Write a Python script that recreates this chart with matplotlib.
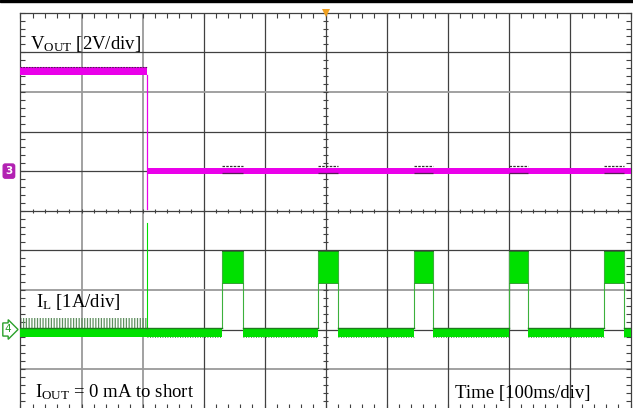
import matplotlib
matplotlib.use("Agg")
import numpy as np
import matplotlib.pyplot as plt
from matplotlib.patches import Rectangle

# ESCALAS DEL OSCILOSCOPIO
t_div = 100        # ms/div
v_div = 2          # V/div (canal 3)
i_div = 1          # A/div (canal 4)
ch3_cero = 6       # nivel de cero del canal 3 (div desde abajo)
ch4_cero = 2       # nivel de cero del canal 4
t_fin = 1000       # ms

# VOUT (V)
t_corto = 207
vout_antes = [4.86, 5.27]
vout_despues = [-0.16, 0.18]
vout_subida = -1.9

# IL (A)
il_base = [-0.18, 0.04]
il_rizado = 0.3
il_pico = 2.7
hiccup_ini = [331, 488, 645, 800, 956]
hiccup_fin = [364, 520, 676, 832, 989]
il_hiccup = [1.17, 1.97]

# textos
txt_vout = r"$\mathregular{V_{OUT}}$ [2V/div]"
txt_il = r"$\mathregular{I_{L}}$ [1A/div]"
txt_iout = r"$\mathregular{I_{OUT}}$ = 0 mA to short"
txt_tiempo = "Time [100ms/div]"

MAGENTA = "#ea00ea"
VERDE = "#00e000"
VERDE_OSC = "#1f7a1f"

plt.rcParams["font.family"] = ["Liberation Serif", "DejaVu Serif"]
plt.rcParams["mathtext.default"] = "regular"
plt.rcParams["hatch.linewidth"] = 0.9


def yv(v):
    return ch3_cero + np.asarray(v) / v_div


def yi(i):
    return ch4_cero + np.asarray(i) / i_div


def xt(t):
    return np.asarray(t) / t_div


fig = plt.figure(figsize=(6.33, 4.08), dpi=100)
ax = fig.add_axes([20.5 / 633, -0.7 / 408, 610 / 633, 396 / 408])
ax.set_xlim(0, 10)
ax.set_ylim(0, 10)

# reticula
claras_x = [1, 2]
claras_y = [8, 3, 1]
for k in range(1, 10):
    if k in claras_x:
        ax.axvline(k, color="#9a9a9a", lw=1.3, zorder=1)
    else:
        ax.axvline(k, color="#404040", lw=0.9, zorder=1)
    if k in claras_y:
        ax.axhline(k, color="#9a9a9a", lw=1.3, zorder=1)
    else:
        ax.axhline(k, color="#404040", lw=0.9, zorder=1)

menores = np.arange(0, 10.01, 0.2)
ax.set_xticks(menores, minor=True)
ax.set_yticks(menores, minor=True)
ax.set_xticks([])
ax.set_yticks([])
ax.tick_params(which="minor", direction="in", length=3.5, width=0.8, color="#404040",
               top=True, right=True, bottom=True, left=True,
               labelbottom=False, labelleft=False)
ax.vlines(menores, 5 - 0.055, 5 + 0.055, color="#404040", lw=0.8, zorder=1)
ax.hlines(menores, 5 - 0.035, 5 + 0.035, color="#404040", lw=0.8, zorder=1)
for s in ax.spines.values():
    s.set_color("#404040")
    s.set_linewidth(0.9)

n_h = len(hiccup_ini)

# VOUT
ax.fill_between(xt([0, t_corto]), yv(vout_antes[0]), yv(vout_antes[1]),
                color=MAGENTA, lw=0, zorder=3)
ax.plot(xt([0, t_corto]), yv([vout_antes[1], vout_antes[1]]), color="#5a1a5a",
        lw=0.8, ls=(0, (1.5, 1)), zorder=4)
ax.plot(xt([t_corto, t_corto]), yv([vout_antes[0], vout_subida]), color=MAGENTA,
        lw=0.9, zorder=3)
ax.fill_between(xt([t_corto, t_fin]), yv(vout_despues[0]), yv(vout_despues[1]),
                color=MAGENTA, lw=0, zorder=3)
ax.hlines([yv(vout_despues[1] + 0.08)] * n_h, xt(hiccup_ini), xt(hiccup_fin),
          color="#303030", lw=0.9, ls=(0, (2, 1)), zorder=4)
ax.hlines([yv(vout_despues[0] + 0.07)] * n_h, xt(hiccup_ini), xt(hiccup_fin),
          color="#5a1a5a", lw=0.9, zorder=4)

# IL antes del corto
ax.fill_between(xt([0, t_corto]), yi(il_base[1]), yi(il_rizado), facecolor="none",
                edgecolor="#5f8f5f", hatch="||||||", lw=0, zorder=2)
ax.fill_between(xt([0, t_corto]), yi(il_base[0]), yi(il_base[1]), color=VERDE,
                lw=0, zorder=3)
ax.plot(xt([0, t_corto]), yi([il_base[1], il_base[1]]), color=VERDE_OSC, lw=1.0, zorder=4)
ax.plot(xt([t_corto, t_corto]), yi([il_base[1], il_pico]), color=VERDE, lw=0.8, zorder=3)

# IL en modo hiccup
tramos_ini = [t_corto] + hiccup_fin
tramos_fin = hiccup_ini + [t_fin]
for a, b in zip(tramos_ini, tramos_fin):
    ax.fill_between(xt([a, b]), yi(il_base[0]), yi(il_base[1]), color=VERDE,
                    lw=0, zorder=3)
    ax.plot(xt([a, b]), yi([il_base[1], il_base[1]]), color=VERDE_OSC, lw=1.0, zorder=4)
    ax.plot(xt([a, b]), yi([il_base[0], il_base[0]]), color=VERDE_OSC, lw=0.6,
            ls=(0, (1, 2)), zorder=4)

for a, b in zip(hiccup_ini, hiccup_fin):
    ax.fill_between(xt([a, b]), yi(il_hiccup[0]), yi(il_hiccup[1]), color=VERDE,
                    lw=0, zorder=3)
    ax.plot(xt([a, b]), yi([il_hiccup[1], il_hiccup[1]]), color=VERDE_OSC, lw=0.7, zorder=4)
    ax.plot(xt([a, b]), yi([il_hiccup[0], il_hiccup[0]]), color="#2fa02f", lw=0.7, zorder=4)
    ax.vlines(xt([a, b]), yi(il_base[1]), yi(il_hiccup[1]), color="#3cb03c", lw=0.8, zorder=3)

# marcas de canal y disparo
ax.text(-0.19, yv(0), "3", color="white", fontsize=7.5, fontweight="bold",
        family="DejaVu Sans", ha="center", va="center", clip_on=False,
        bbox=dict(boxstyle="round,pad=0.2", fc="#b222b2", ec="#b222b2"))
ax.text(-0.21, yi(0), "4", color="#2aa02a", fontsize=7.5, family="DejaVu Sans",
        ha="center", va="center", clip_on=False,
        bbox=dict(boxstyle="rarrow,pad=0.15", fc="white", ec="#2aa02a", lw=1.0))
ax.plot(5, 10, marker="v", color="#f0a020", ms=6, mew=0, clip_on=False, zorder=5)

# textos
ax.text(0.156, 9.083, txt_vout, fontsize=13.5, va="baseline", zorder=6)
ax.text(0.254, 2.576, txt_il, fontsize=13.5, va="baseline", zorder=6)
ax.text(0.238, 0.295, txt_iout, fontsize=13.5, va="baseline", zorder=6)
ax.text(7.118, 0.27, txt_tiempo, fontsize=13.5, va="baseline", zorder=6)

# barra negra superior
fig.patches.append(Rectangle((0, 1 - 1.5 / 408), 1, 1.5 / 408, transform=fig.transFigure,
                             color="black"))

fig.savefig("out.png", dpi=100)
